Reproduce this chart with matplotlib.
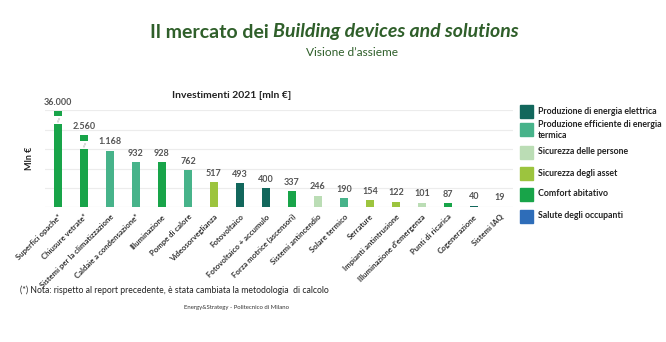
import matplotlib
matplotlib.use("Agg")
import matplotlib.pyplot as plt
from matplotlib.patches import Rectangle

categories = ["Superfici opache*", "Chiusure vetrate*", "Sistemi per la climatizzazione",
              "Caldaie a condensazione*", "Illuminazione", "Pompe di calore",
              "Videosorveglianza", "Fotovoltaico", "Fotovoltaico + accumulo",
              "Forza motrice (ascensori)", "Sistemi antincendio", "Solare termico",
              "Serrature", "Impianti antintrusione", "Illuminazione d'emergenza",
              "Punti di ricarica", "Cogenerazione", "Sistemi IAQ"]
values = [36000, 2560, 1168, 932, 928, 762, 517, 493, 400, 337, 246, 190, 154, 122, 101, 87, 40, 19]
groups = ["comfort", "comfort", "termica", "termica", "comfort", "termica",
          "asset", "elettrica", "elettrica", "comfort", "persone", "termica",
          "asset", "asset", "persone", "comfort", "elettrica", "salute"]

legend_keys = ["elettrica", "termica", "persone", "asset", "comfort", "salute"]
legend_labels = ["Produzione di energia elettrica", "Produzione efficiente di energia\ntermica",
                 "Sicurezza delle persone", "Sicurezza degli asset", "Comfort abitativo",
                 "Salute degli occupanti"]
colors = {"elettrica": "#12675C", "termica": "#47B38A", "persone": "#BBDDB5",
          "asset": "#9CC43E", "comfort": "#18A449", "salute": "#2E6DB9"}

# broken-axis display for oversized bars: (lower top, piece bottom, piece top)
breaks = {0: (1715, 1880, 1985), 1: (1200, 1365, 1490)}

FONT = ["Lato", "DejaVu Sans"]
plt.rcParams["font.family"] = FONT

fig = plt.figure(figsize=(6.66, 3.42), dpi=100)
ax = fig.add_axes([0.0676, 0.3933, 0.7024, 0.285])

def fmt(v):
    return f"{v:,}".replace(",", ".")

for i, (v, g) in enumerate(zip(values, groups)):
    c = colors[g]
    if i in breaks:
        lo, pb, pt = breaks[i]
        ax.bar(i, lo, width=0.31, color=c, zorder=3)
        ax.bar(i, pt - pb, bottom=pb, width=0.31, color=c, zorder=3)
        ax.text(i, (lo + pb) / 2, "//", ha="center", va="center", fontsize=3.5,
                color="#8a8a8a", style="italic", zorder=4)
        top = pt
    else:
        ax.bar(i, v, width=0.31, color=c, zorder=3)
        top = v
    ax.annotate(fmt(v), (i, top), xytext=(0, 3), textcoords="offset points",
                ha="center", va="bottom", fontsize=6.5, color="#555555",
                fontweight="bold", annotation_clip=False)

ax.set_xlim(-0.5, 17.5)
ax.set_ylim(0, 2000)
ax.set_yticks([400, 800, 1200, 1600, 2000])
ax.yaxis.grid(True, color="#ECECEC", linewidth=0.8, zorder=0)
ax.tick_params(axis="y", length=0, labelleft=False)
ax.axhline(0, color="#D9D9D9", linewidth=0.8, zorder=2)
for s in ax.spines.values():
    s.set_visible(False)
ax.set_xticks(range(len(categories)))
ax.set_xticklabels(categories, rotation=45, ha="right", rotation_mode="anchor",
                   fontsize=5.6, fontweight="bold", color="#333333")
ax.tick_params(axis="x", length=0, pad=4)

ax.set_ylabel("Mln €", fontsize=6.5, fontweight="bold", color="#222222", labelpad=8)

fig.text(0.348, 0.722, "Investimenti 2021 [mln €]", ha="center", va="center",
         fontsize=7.5, fontweight="bold", color="#222222")

# legend
ys = [111, 130, 152, 173, 194, 216]
for k, lab, y in zip(legend_keys, legend_labels, ys):
    fy = 1 - y / 342
    fig.patches.append(Rectangle((520 / 666, fy - 6.5 / 342), 13 / 666, 13 / 342,
                                 transform=fig.transFigure, color=colors[k]))
    fig.text(538 / 666, fy, lab, ha="left", va="center", fontsize=6.3,
             fontweight="bold", color="#222222", linespacing=1.2)

# titles
title_y = 1 - 32 / 342
fig.text(273 / 666, title_y, "Il mercato dei ", ha="right", va="center", fontsize=14,
         fontweight="bold", color="#2F5F2A")
fig.text(273 / 666, title_y, "Building devices and solutions", ha="left", va="center",
         fontsize=14, fontweight="bold", style="italic", color="#2F5F2A")
fig.text(352 / 666, 1 - 52 / 342, "Visione d’assieme", ha="center", va="center",
         fontsize=8.6, color="#2F5F2A")

fig.text(20 / 666, 1 - 290 / 342,
         "(*) Nota: rispetto al report precedente, è stata cambiata la metodologia  di calcolo",
         ha="left", va="center", fontsize=6.2, color="#222222")
fig.text(236 / 666, 1 - 308 / 342, "Energy&Strategy - Politecnico di Milano",
         ha="center", va="center", fontsize=4.3, color="#333333")

fig.savefig("out.png", dpi=100, facecolor="white")
